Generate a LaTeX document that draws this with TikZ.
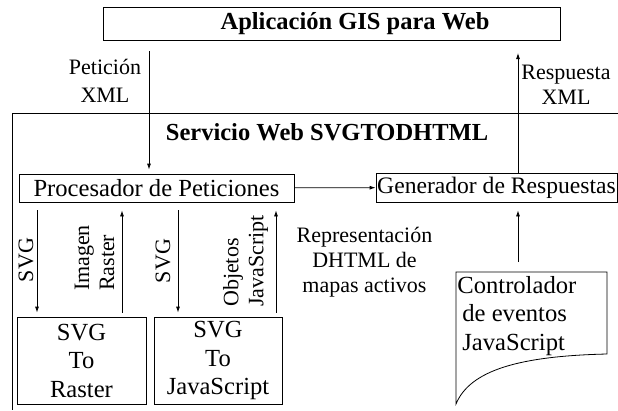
\documentclass[tikz,border=0pt]{standalone}
\usepackage{fontspec}
\setmainfont{Liberation Serif}
\usetikzlibrary{shapes,arrows.meta}

\begin{document}
\begin{tikzpicture}[x=1pt,y=-1pt,line width=0.8pt,
  >={Latex[length=6pt,width=4pt]},
  box/.style={draw,rectangle,inner sep=1pt,align=center,font=\fontsize{24.6}{28.5}\selectfont},
  lbl/.style={align=center,inner sep=1pt,font=\fontsize{22}{25}\selectfont},
  head/.style={inner sep=1pt,font=\fontsize{24.5}{28}\selectfont\bfseries}]
\useasboundingbox (0,0) rectangle (618,410);
% outer frame of the web service
\draw (618,113) -- (12,113) -- (12,410);
\node[draw,rectangle,minimum width=457pt,minimum height=33pt] (app) at (331.5,23.5) {};
\node[head] (apptitle) at (355,24) {Aplicación GIS para Web};
\node[head] (service) at (327,132) {Servicio Web SVGTODHTML};
\node[box,minimum width=275pt,minimum height=28pt] (proc) at (156.5,188) {Procesador de Peticiones};
\node[box,minimum width=241pt,minimum height=29pt,inner sep=0pt,font=\fontsize{23.6}{28}\selectfont] (gen) at (496.5,187.5) {Generador de Respuestas};
\node[box,minimum width=129pt,minimum height=87pt] (raster) at (81.5,360.5) {SVG\\To\\Raster};
\node[box,minimum width=128pt,minimum height=87pt] (tojs) at (218,360.5) {SVG\\To\\JavaScript};
% document shape
\draw (456,272) -- (607,272) -- (607,354) .. controls (520,356) and (470,370) .. (456,404) -- cycle;
\node[anchor=north west,align=left,inner sep=0pt,font=\fontsize{24.6}{28.5}\selectfont] (ctrl) at (457,276)
  {Controlador\\\hspace{5pt}de eventos\\\hspace{5pt}JavaScript};
\path (ctrl.north) ++(0,-4) coordinate (ctrltop);
% labels
\node[lbl] (petlbl) at (105,81) {Petición\\[3pt]XML};
\node[lbl] (resplbl) at (566,84.5) {Respuesta\\XML};
\node[lbl] (dhtml) at (364.5,262) {Representación\\DHTML de\\mapas activos};
\node[lbl,rotate=90] (svga) at (26,260) {SVG};
\node[lbl,rotate=90,align=left] (imglbl) at (94.5,258) {Imagen\\Raster};
\node[lbl,rotate=90] (svgb) at (163,261) {SVG};
\node[lbl,rotate=90,align=left] (objlbl) at (245.5,261) {Objetos\\JavaScript};
% arrow columns
\coordinate (pet) at (149,51);
\coordinate (resp) at (518,53);
\coordinate (colA) at (37,0);
\coordinate (colB) at (122,0);
\coordinate (colC) at (178,0);
\coordinate (colD) at (276,0);
\draw[->,shorten >=4pt] (pet) -- (proc.north -| pet);
\draw[->] (gen.north -| resp) -- (resp);
\draw[->] (proc) -- (gen);
\draw[->,shorten <=10pt,shorten >=8pt] (ctrltop -| resp) -- (gen.south -| resp);
\draw[->,shorten <=8pt,shorten >=4pt] (proc.south -| colA) -- (raster.north -| colA);
\draw[->,shorten <=4pt,shorten >=8pt] (raster.north -| colB) -- (proc.south -| colB);
\draw[->,shorten <=8pt,shorten >=4pt] (proc.south -| colC) -- (tojs.north -| colC);
\draw[->,shorten <=4pt,shorten >=8pt] (tojs.north -| colD) -- (proc.south -| colD);
\end{tikzpicture}
\end{document}
